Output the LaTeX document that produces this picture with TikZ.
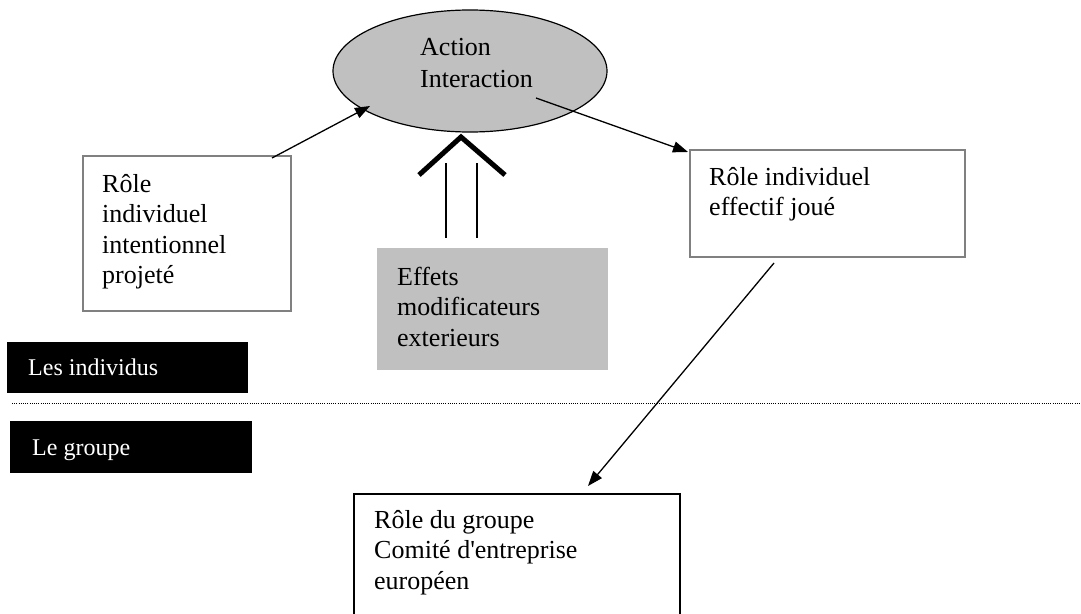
\documentclass[tikz,border=0pt]{standalone}
\usepackage{fontspec}
\setmainfont{Liberation Serif}[Ligatures=TeXOff]
\usetikzlibrary{arrows.meta,shapes.geometric}
\definecolor{fillgray}{HTML}{C0C0C0}
\definecolor{edgegray}{HTML}{808080}
\begin{document}
\begin{tikzpicture}[x=1pt,y=-1pt,
  txt/.style={anchor=north west, inner sep=0pt, align=left, font=\fontsize{26}{30.5}\selectfont},
  ttxt/.style={anchor=north west, inner sep=0pt, align=left, font=\fontsize{26}{32}\selectfont},
  wtxt/.style={anchor=north west, inner sep=0pt, align=left, text=white, font=\fontsize{24}{28}\selectfont},
  graybox/.style={draw=edgegray, line width=1.5pt, anchor=north west, inner sep=0pt},
  blackbox/.style={fill=black, anchor=north west, inner sep=0pt},
  conn/.style={line width=1.3pt, -{Triangle[length=15pt,width=11pt]}},
  plain/.style={line width=1.3pt}
]
\useasboundingbox (0,0) rectangle (1081,613);

% ellipse
\node[ellipse, draw, fill=fillgray, line width=1.2pt, minimum width=274pt, minimum height=122pt, inner sep=0pt] (ell) at (470,71) {};
\node[ttxt] (elltxt) at (420,32.6) {\strut Action\\\strut Interaction};

% left box
\node[graybox, minimum width=208pt, minimum height=155pt] (lbox) at (82,155) {};
\node[txt] (ltxt) at (102,170.6) {\strut Rôle\\\strut individuel\\\strut intentionnel\\\strut projeté};

% right box
\node[graybox, minimum width=275pt, minimum height=107pt] (rbox) at (689,149) {};
\node[txt] (rtxt) at (709,163.6) {\strut Rôle individuel\\\strut effectif joué};

% gray effects box
\node[fill=fillgray, anchor=north west, inner sep=0pt, minimum width=231pt, minimum height=122pt] (ebox) at (377,248) {};
\node[txt] (etxt) at (397,263.6) {\strut Effets\\\strut modificateurs\\\strut exterieurs};

% black labels
\node[blackbox, minimum width=241pt, minimum height=51pt] (ind) at (7,342) {};
\node[wtxt] (indtxt) at (28,355.4) {\strut Les individus};
\node[blackbox, minimum width=242pt, minimum height=52pt] (grp) at (10,421) {};
\node[wtxt] (grptxt) at (32,435.4) {\strut Le groupe};

% bottom box
\node[draw, line width=1.8pt, anchor=north west, inner sep=0pt, minimum width=326pt, minimum height=140pt] (bbox) at (353,493) {};
\node[txt] (btxt) at (374,506.6) {\strut Rôle du groupe\\\strut Comité d'entreprise\\\strut européen};

% dotted separator
\coordinate (sepL) at (12,403);
\coordinate (sepR) at (1081,403);
\draw[line width=1pt, dash pattern=on 1pt off 1.2pt] (sepL) -- (sepR);

% connectors
\coordinate (a1s) at (272,158);
\coordinate (a1e) at (370,106);
\draw[conn] (a1s) -- (a1e);
\coordinate (a2s) at (536,98);
\coordinate (a2e) at (688,152);
\draw[conn] (a2s) -- (a2e);
\coordinate (a3s) at (774,263);
\coordinate (a3e) at (588,486);
\draw[conn] (a3s) -- (a3e);

% double arrow (chevron + shaft)
\coordinate (chL) at (419,175);
\coordinate (chT) at (461,137);
\coordinate (chR) at (505,175);
\draw[line width=5pt, line join=miter] (chL) -- (chT) -- (chR);
\coordinate (v1t) at (446,163);
\coordinate (v1b) at (446,238);
\coordinate (v2t) at (477,163);
\coordinate (v2b) at (477,238);
\draw[plain] (v1t) -- (v1b);
\draw[plain] (v2t) -- (v2b);
\end{tikzpicture}
\end{document}
